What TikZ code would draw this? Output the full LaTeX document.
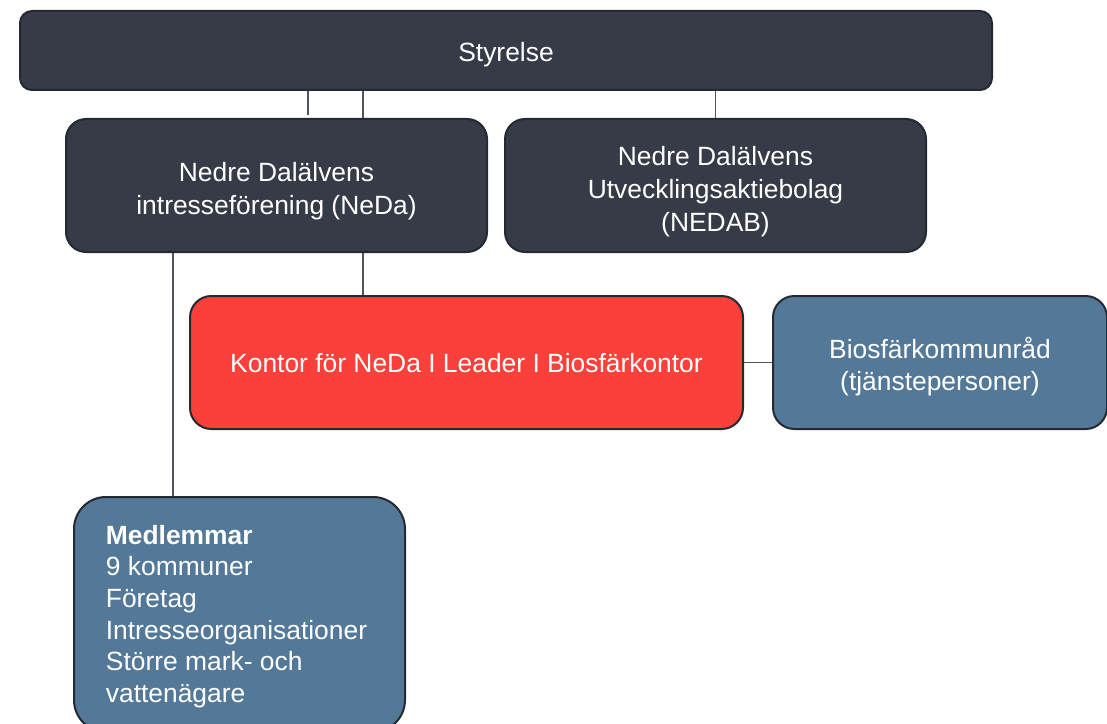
\documentclass[tikz,border=0pt]{standalone}
\usepackage{fontspec}
\setmainfont{Liberation Sans}
\definecolor{darkfill}{HTML}{363B47}
\definecolor{boxline}{HTML}{252932}
\definecolor{redfill}{HTML}{F9403A}
\definecolor{bluefill}{HTML}{537898}
\definecolor{conn}{HTML}{4E535E}
\begin{document}
\begin{tikzpicture}[x=0.75pt,y=-0.75pt,
  orgbox/.style={draw=boxline, line width=1.5pt, inner sep=0pt},
  txt/.style={text=white, align=center, inner sep=0pt, font=\fontsize{19.8}{24.6}\selectfont},
  connline/.style={draw=conn, line width=0.9pt}]
\useasboundingbox (0,0) rectangle (1107,724);
% boxes
\node[orgbox, fill=darkfill, rounded corners=9pt, minimum width=972*0.75pt, minimum height=79*0.75pt] (sty) at (506,50.5) {};
\node[orgbox, fill=darkfill, rounded corners=15pt, minimum width=421*0.75pt, minimum height=133*0.75pt] (neda) at (276.5,185.5) {};
\node[orgbox, fill=darkfill, rounded corners=15pt, minimum width=421*0.75pt, minimum height=133*0.75pt] (nedab) at (715.5,185.5) {};
\node[orgbox, fill=redfill, rounded corners=16pt, minimum width=553*0.75pt, minimum height=133*0.75pt] (kontor) at (466.5,362.5) {};
\node[orgbox, fill=bluefill, rounded corners=16pt, minimum width=334*0.75pt, minimum height=133*0.75pt] (bios) at (940,362.5) {};
\node[orgbox, fill=bluefill, rounded corners=24pt, minimum width=331*0.75pt, minimum height=235*0.75pt] (medl) at (239.5,614.5) {};
% texts
\node[txt] (styT) at ([yshift=-3pt]sty.center) {Styrelse};
\node[txt] (nedaT) at ([yshift=-4.5pt]neda.center) {Nedre Dalälvens\\intresseförening (NeDa)};
\node[txt] (nedabT) at ([yshift=-4.5pt]nedab.center) {Nedre Dalälvens\\Utvecklingsaktiebolag\\(NEDAB)};
\node[txt] (kontorT) at ([yshift=-0.75pt]kontor.center) {Kontor för NeDa I Leader I Biosfärkontor};
\node[txt] (biosT) at ([yshift=-3pt]bios.center) {Biosfärkommunråd\\(tjänstepersoner)};
\node[txt, align=left, font=\fontsize{19.8}{23.7}\selectfont] (medlT) at ([xshift=-2.25pt,yshift=-1.5pt]medl.center) {\textbf{Medlemmar}\\9 kommuner\\Företag\\Intresseorganisationer\\Större mark- och\\vattenägare};
% connectors
\coordinate (d1) at (308,115);
\coordinate (xa) at (363,0);
\coordinate (xb) at (173,0);
\draw[connline] (sty.south -| d1) -- (d1);
\draw[connline] (sty.south -| xa) -- (neda.north -| xa);
\draw[connline] (sty.south -| nedab.north) -- (nedab.north);
\draw[connline] (neda.south -| xa) -- (kontor.north -| xa);
\draw[connline] (neda.south -| xb) -- (medl.north -| xb);
\draw[connline] (kontor.east) -- (bios.west);
\end{tikzpicture}
\end{document}
